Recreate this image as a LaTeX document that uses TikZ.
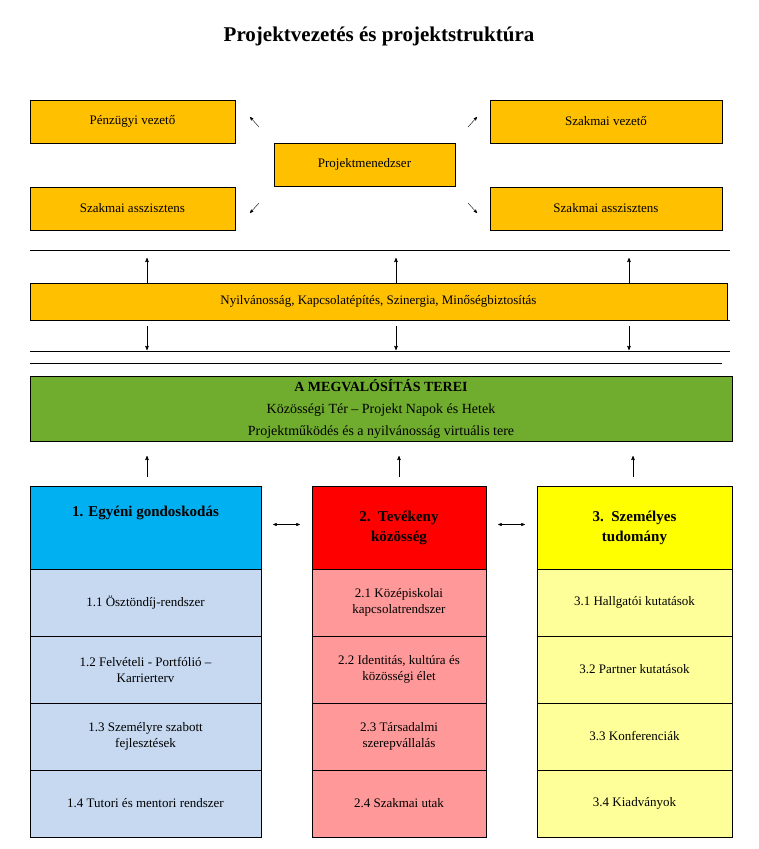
\documentclass[tikz,border=0pt]{standalone}
\usepackage{fontspec}
\setmainfont{Liberation Serif}
\usetikzlibrary{arrows}
\definecolor{narancs}{HTML}{FFC000}
\definecolor{zold}{HTML}{70AD2F}
\definecolor{kek}{HTML}{00B0F0}
\definecolor{piros}{HTML}{FF0000}
\definecolor{sarga}{HTML}{FFFF00}
\definecolor{halvanykek}{HTML}{C6D9F1}
\definecolor{halvanypiros}{HTML}{FF9999}
\definecolor{halvanysarga}{HTML}{FFFF99}
\tikzstyle{box} = [rectangle, draw=black, inner sep=0pt, align=center, font=\fontsize{13}{16}\selectfont]
\tikzstyle{ob} = [box, fill=narancs, minimum height=43pt]
\tikzstyle{hdr} = [box, minimum height=83pt, font=\fontsize{15}{20}\selectfont\bfseries]
\tikzstyle{row} = [box, minimum height=67pt]
\tikzstyle{arrow} = [->,>=stealth', semithick]
\tikzstyle{sarrow} = [->,>=stealth', thin]
\tikzstyle{vline} = [thin]

\begin{document}
\begin{tikzpicture}[x=1pt,y=-1pt]
\useasboundingbox (0,0) rectangle (758,849);

\node (title) at (379,36) {\fontsize{21}{24}\selectfont\bfseries Projektvezetés és projektstruktúra};

% vezetes
\node (penz) [ob, minimum width=205pt] at (132.5,121.5) {Pénzügyi vezető};
\node (szv) [ob, minimum width=232pt] at (606,121.5) {Szakmai vezető};
\node (pm) [ob, minimum width=181pt] at (364.5,164.5) {Projektmenedzser};
\node (asz1) [ob, minimum width=205pt] at (132.5,208.5) {Szakmai asszisztens};
\node (asz2) [ob, minimum width=232pt] at (606,208.5) {Szakmai asszisztens};

\coordinate (a1) at (259,127); \coordinate (b1) at (250,117);
\coordinate (a2) at (468,127); \coordinate (b2) at (477,117);
\coordinate (a3) at (259,203); \coordinate (b3) at (250,213);
\coordinate (a4) at (468,203); \coordinate (b4) at (477,213);
\foreach \i in {1,...,4}
  \draw [sarrow] (a\i) -- (b\i);

% savok
\node (nyilv) [box, fill=narancs, minimum width=697pt, minimum height=37pt] at (378.5,301.5)
  {Nyilvánosság, Kapcsolatépítés, Szinergia, Minőségbiztosítás};
\coordinate (l1a) at (30,250); \coordinate (l1b) at (730,250);
\coordinate (l2a) at (30,320); \coordinate (l2b) at (730,320);
\coordinate (l3a) at (30,351); \coordinate (l3b) at (730,351);
\coordinate (l4a) at (30,363); \coordinate (l4b) at (722,363);
\foreach \i in {1,...,4}
  \draw [vline] (l\i a) -- (l\i b);

\foreach \x in {147,396,629} {
  \draw [arrow] (\x,283) -- (\x,258);
  \draw [arrow] (\x,326) -- (\x,350);
}

\node (terek) [box, fill=zold, minimum width=702pt, minimum height=65pt, font=\fontsize{14}{22}\selectfont] at (381,408.5)
  {\textbf{A MEGVALÓSÍTÁS TEREI}\\Közösségi Tér – Projekt Napok és Hetek\\Projektműködés és a nyilvánosság virtuális tere};

\foreach \x in {147,399,633}
  \draw [arrow] (\x,477) -- (\x,456);

% oszlopok
\node (h1) [hdr, fill=kek, minimum width=231pt] at (145.5,527.5) {1. Egyéni gondoskodás\\[12pt]};
\node (h2) [hdr, fill=piros, minimum width=174pt, text width=150pt] at (399,527.5) {2. Tevékeny\\közösség\\[6pt]};
\node (h3) [hdr, fill=sarga, minimum width=195pt, text width=170pt] at (634.5,527.5) {3. Személyes\\tudomány\\[6pt]};

\foreach \t [count=\i] in {1.1 Ösztöndíj-rendszer, 1.2 Felvételi - Portfólió –\\Karrierterv, 1.3 Személyre szabott\\fejlesztések, 1.4 Tutori és mentori rendszer}
  \node (r1\i) [row, fill=halvanykek, minimum width=231pt] at (145.5,569+67*\i-33.5) {\t};
\foreach \t [count=\i] in {2.1 Középiskolai\\kapcsolatrendszer, {2.2 Identitás, kultúra és\\közösségi élet}, 2.3 Társadalmi\\szerepvállalás, 2.4 Szakmai utak}
  \node (r2\i) [row, fill=halvanypiros, minimum width=174pt] at (399,569+67*\i-33.5) {\t};
\foreach \t [count=\i] in {3.1 Hallgatói kutatások, 3.2 Partner kutatások, 3.3 Konferenciák, 3.4 Kiadványok}
  \node (r3\i) [row, fill=halvanysarga, minimum width=195pt] at (634.5,569+67*\i-33.5) {\t};

\draw [sarrow, <->] ([xshift=12pt,yshift=3pt]h1.east) -- ([xshift=-12pt,yshift=3pt]h2.west);
\draw [sarrow, <->] ([xshift=12pt,yshift=3pt]h2.east) -- ([xshift=-12pt,yshift=3pt]h3.west);

\end{tikzpicture}
\end{document}
